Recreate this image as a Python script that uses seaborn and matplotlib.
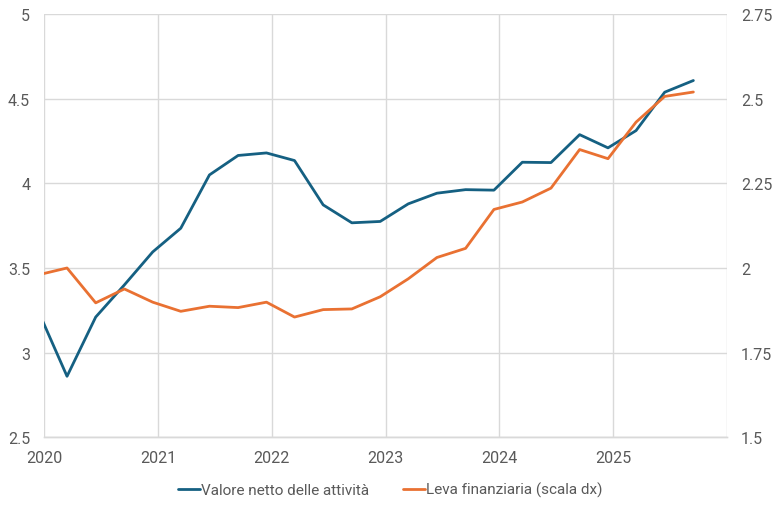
"""
Valore netto delle attività vs leva finanziaria, dati trimestrali 2019T4-2025T3.
"""

import matplotlib
matplotlib.use("Agg")
import matplotlib.pyplot as plt
import pandas as pd
import seaborn as sns

# ---------------------------------------------------------------------------
# Data
# ---------------------------------------------------------------------------

QUARTERS = [
    "2019Q4",
    "2020Q1", "2020Q2", "2020Q3", "2020Q4",
    "2021Q1", "2021Q2", "2021Q3", "2021Q4",
    "2022Q1", "2022Q2", "2022Q3", "2022Q4",
    "2023Q1", "2023Q2", "2023Q3", "2023Q4",
    "2024Q1", "2024Q2", "2024Q3", "2024Q4",
    "2025Q1", "2025Q2", "2025Q3",
]

valore_netto = [
    3.24,
    2.86, 3.21, 3.40, 3.595,
    3.735, 4.05, 4.165, 4.18,
    4.135, 3.873, 3.767, 3.775,
    3.879, 3.942, 3.963, 3.96,
    4.125, 4.123, 4.288, 4.21,
    4.312, 4.539, 4.608,
]

leva = [
    1.98,
    2.00, 1.897, 1.938, 1.899,
    1.872, 1.887, 1.883, 1.899,
    1.855, 1.877, 1.879, 1.915,
    1.968, 2.031, 2.058, 2.173,
    2.195, 2.236, 2.35, 2.323,
    2.431, 2.507, 2.52,
]

LABEL_LEFT = "Valore netto delle attività"
LABEL_RIGHT = "Leva finanziaria (scala dx)"

YEARS = [2020, 2021, 2022, 2023, 2024, 2025, 2026]
LEFT_TICKS = [2.5, 3, 3.5, 4, 4.5, 5]
RIGHT_TICKS = [1.5, 1.75, 2, 2.25, 2.5, 2.75]

BLUE = "#156082"
ORANGE = "#E97132"
GRID = "#D9D9D9"
TEXT = "#595959"

# ---------------------------------------------------------------------------
# Plot
# ---------------------------------------------------------------------------

# points sit in the middle of the last month of each quarter
dates = [
    pd.Period(q, freq="Q").asfreq("M", "end").to_timestamp() + pd.Timedelta(days=14)
    for q in QUARTERS
]
df = pd.DataFrame({"data": dates, "valore": valore_netto, "leva": leva})

sns.set_theme(style="white")
plt.rcParams["font.family"] = ["Roboto", "DejaVu Sans"]

fig = plt.figure(figsize=(7.81, 5.06), dpi=100)
ax = fig.add_axes([0.0563, 0.134, 0.8746, 0.836])
ax2 = ax.twinx()

sns.lineplot(data=df, x="data", y="valore", ax=ax, color=BLUE, linewidth=2.0,
             label=LABEL_LEFT, legend=False)
sns.lineplot(data=df, x="data", y="leva", ax=ax2, color=ORANGE, linewidth=2.0,
             label=LABEL_RIGHT, legend=False)

ax.set_xlim(pd.Timestamp("2020-01-01"), pd.Timestamp("2026-01-01"))
ax.set_ylim(2.5, 5)
ax2.set_ylim(1.5, 2.75)

ax.set_xticks([pd.Timestamp(f"{y}-01-01") for y in YEARS])
ax.set_xticklabels([str(y) for y in YEARS[:-1]] + [""])

ax.set_yticks(LEFT_TICKS)
ax.set_yticklabels([f"{t:g}" for t in LEFT_TICKS])
ax2.set_yticks(RIGHT_TICKS)
ax2.set_yticklabels([f"{t:g}" for t in RIGHT_TICKS])

ax.set_xlabel("")
ax.set_ylabel("")
ax2.set_ylabel("")

ax.grid(True, color=GRID, linewidth=1.0)
ax2.grid(False)
ax.set_axisbelow(True)

for a in (ax, ax2):
    for side in ("top", "left", "right"):
        a.spines[side].set_visible(False)
    a.spines["bottom"].set_color(GRID)
    a.spines["bottom"].set_linewidth(1.0)

ax.tick_params(axis="x", colors=GRID, length=5, width=1.0, labelcolor=TEXT,
               labelsize=11.5, pad=4)
ax.tick_params(axis="y", length=0, labelcolor=TEXT, labelsize=11.5, pad=10)
ax2.tick_params(axis="y", length=0, labelcolor=TEXT, labelsize=11.5, pad=10)

handles = ax.get_lines()[:1] + ax2.get_lines()[:1]
fig.legend(handles, [LABEL_LEFT, LABEL_RIGHT], loc="center",
           bbox_to_anchor=(0.5, 0.03), ncol=2, frameon=False,
           fontsize=11, labelcolor=TEXT, handlelength=1.4,
           handletextpad=0.1, columnspacing=2.2)

fig.savefig("out.png", dpi=100)
plt.close(fig)
